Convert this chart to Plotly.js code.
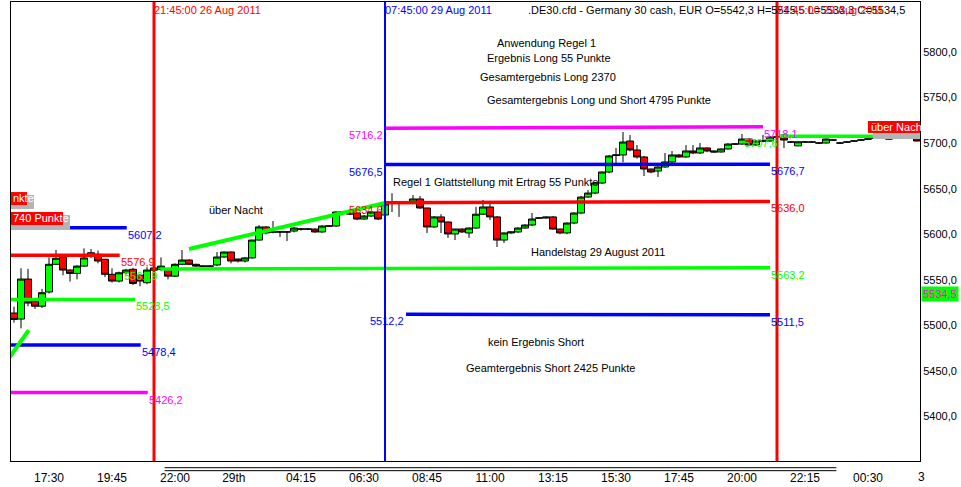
<!DOCTYPE html>
<html>
<head>
<meta charset="utf-8">
<script src="https://cdn.plot.ly/plotly-3.0.1.min.js"></script>
<style>
  html, body { margin: 0; padding: 0; background: #fff; }
  #chart { width: 961px; height: 487px; }
</style>
</head>
<body>
<div id="chart"></div>
<script>
// .DE30.cfd, 15 minute candles, Fri 26 Aug 2011 evening to Mon 29 Aug 2011
const opens = [
  5513.5, 5506.9, 5550.8, 5526.0, 5521.0, 5536.6, 5567.0, 5574.7, 5560.7, 5557.0,
  5565.0, 5579.7, 5578.0, 5572.5, 5556.0, 5548.6, 5557.7, 5561.5, 5555.0, 5546.8,
  5560.5, 5561.5, 5561.5, 5554.0, 5567.0, 5571.7, 5567.0, 5565.0, 5565.0, 5566.2,
  5575.0, 5580.5, 5572.8, 5570.6, 5574.0, 5593.6, 5608.0, 5602.5, 5602.5, 5602.5,
  5603.5, 5605.7, 5605.7, 5605.7, 5602.5, 5609.0, 5609.0, 5624.4, 5624.4, 5623.3,
  5616.7, 5620.0, 5624.4, 5621.1, 5635.4, 5634.3, 5635.4, 5634.3, 5638.7, 5628.8,
  5608.0, 5619.0, 5613.4, 5600.3, 5605.7, 5601.4, 5606.8, 5622.0, 5629.9, 5619.0,
  5593.6, 5601.4, 5602.5, 5606.8, 5610.1, 5617.8, 5617.8, 5619.0, 5605.7, 5601.4,
  5612.3, 5623.3, 5640.8, 5645.2, 5656.2, 5668.3, 5686.5, 5687.0, 5702.3, 5692.5,
  5684.8, 5671.6, 5669.4, 5673.8, 5679.3, 5687.0, 5684.8, 5691.4, 5689.2, 5694.7,
  5691.4, 5690.3, 5693.6, 5699.0, 5699.0, 5704.5, 5698.0, 5702.3, 5702.3, 5706.7,
  5708.9, 5701.2, 5697.0, 5701.2, 5701.2, 5700.1, 5700.1, 5703.4, 5700.1, 5701.2,
  5702.3, 5703.4, 5704.5, 5705.6, 5705.6, 5705.6, 5705.6, 5705.6, 5705.6, 5705.6
];
const highs = [
  5520.5, 5562.6, 5562.0, 5527.0, 5540.0, 5574.6, 5582.7, 5578.0, 5561.5, 5566.0,
  5584.5, 5583.7, 5582.0, 5573.0, 5562.6, 5559.0, 5562.0, 5563.0, 5556.0, 5563.6,
  5564.0, 5574.6, 5562.0, 5568.0, 5582.7, 5572.5, 5567.5, 5565.5, 5565.5, 5580.5,
  5581.0, 5581.0, 5573.0, 5575.0, 5594.0, 5610.0, 5609.0, 5614.5, 5603.0, 5603.0,
  5608.0, 5607.0, 5606.5, 5606.5, 5610.0, 5610.0, 5625.0, 5625.5, 5625.0, 5624.0,
  5621.0, 5625.0, 5625.0, 5634.0, 5645.0, 5635.0, 5636.0, 5643.0, 5642.0, 5629.0,
  5620.0, 5622.0, 5614.0, 5606.0, 5606.5, 5607.5, 5630.0, 5637.6, 5635.0, 5620.0,
  5602.0, 5603.0, 5607.5, 5611.0, 5623.3, 5618.5, 5619.5, 5620.0, 5606.0, 5613.0,
  5624.0, 5642.0, 5648.5, 5657.0, 5669.0, 5687.0, 5694.7, 5712.2, 5708.9, 5697.9,
  5686.0, 5672.0, 5674.5, 5689.2, 5691.3, 5688.0, 5697.9, 5697.9, 5700.1, 5695.5,
  5692.0, 5694.0, 5700.0, 5700.0, 5710.0, 5705.0, 5703.0, 5709.0, 5707.5, 5708.0,
  5710.0, 5702.0, 5702.0, 5702.0, 5702.0, 5701.0, 5705.0, 5704.0, 5701.0, 5702.0,
  5703.0, 5704.0, 5705.0, 5706.0, 5706.0, 5706.0, 5706.0, 5706.0, 5706.0, 5706.0
];
const lows = [
  5503.0, 5496.7, 5521.0, 5518.0, 5519.0, 5535.0, 5566.0, 5555.0, 5548.0, 5550.5,
  5564.0, 5574.0, 5568.0, 5553.0, 5547.0, 5547.0, 5556.0, 5544.3, 5543.0, 5545.0,
  5559.0, 5560.0, 5550.5, 5553.0, 5566.0, 5566.0, 5564.0, 5564.5, 5564.5, 5565.0,
  5574.0, 5568.0, 5569.0, 5569.0, 5573.0, 5593.0, 5600.0, 5601.0, 5597.0, 5592.6,
  5602.0, 5604.0, 5604.5, 5601.5, 5601.5, 5608.0, 5608.0, 5623.5, 5621.0, 5615.5,
  5616.0, 5619.0, 5615.5, 5620.0, 5624.4, 5619.0, 5634.0, 5633.0, 5628.0, 5601.4,
  5607.0, 5601.4, 5596.0, 5593.6, 5601.5, 5596.0, 5606.0, 5621.0, 5615.6, 5586.0,
  5590.3, 5600.5, 5601.5, 5606.0, 5609.0, 5617.0, 5617.0, 5605.0, 5600.0, 5600.0,
  5611.0, 5622.0, 5640.0, 5644.0, 5655.0, 5667.0, 5678.2, 5679.0, 5691.0, 5683.0,
  5663.9, 5667.0, 5662.8, 5673.0, 5678.0, 5684.0, 5684.0, 5688.0, 5688.0, 5690.0,
  5689.5, 5689.5, 5693.0, 5698.0, 5698.0, 5697.0, 5697.0, 5701.0, 5701.5, 5705.5,
  5694.7, 5700.5, 5696.5, 5700.5, 5700.5, 5699.5, 5699.5, 5702.5, 5699.0, 5700.5,
  5701.5, 5702.5, 5704.0, 5705.0, 5705.0, 5704.0, 5705.0, 5705.0, 5705.0, 5702.0
];
const closes = [
  5506.5, 5550.8, 5524.5, 5521.0, 5535.8, 5567.0, 5573.6, 5560.7, 5557.0, 5565.0,
  5574.0, 5576.0, 5570.6, 5556.0, 5548.6, 5557.7, 5560.7, 5546.0, 5548.6, 5560.7,
  5563.0, 5565.0, 5554.0, 5567.0, 5571.7, 5567.0, 5565.0, 5565.0, 5565.0, 5575.0,
  5580.5, 5570.6, 5570.6, 5574.0, 5593.6, 5608.0, 5601.4, 5602.5, 5602.5, 5602.5,
  5606.8, 5605.7, 5605.7, 5602.5, 5609.0, 5609.0, 5624.4, 5624.4, 5622.0, 5616.7,
  5620.0, 5624.4, 5616.7, 5633.2, 5635.4, 5634.3, 5635.4, 5638.7, 5628.8, 5608.0,
  5619.0, 5613.4, 5600.3, 5605.7, 5602.5, 5606.8, 5622.0, 5629.9, 5619.0, 5593.6,
  5601.4, 5602.5, 5606.8, 5610.1, 5616.7, 5617.8, 5618.8, 5605.7, 5601.4, 5612.3,
  5623.3, 5640.8, 5645.2, 5656.2, 5668.3, 5685.9, 5687.0, 5701.2, 5692.5, 5684.8,
  5671.6, 5668.3, 5673.8, 5679.3, 5687.0, 5684.8, 5691.4, 5689.2, 5694.7, 5691.4,
  5690.3, 5693.6, 5699.0, 5699.0, 5704.5, 5698.0, 5702.3, 5702.3, 5706.7, 5706.7,
  5703.4, 5701.2, 5701.5, 5701.2, 5701.2, 5700.1, 5704.5, 5703.4, 5700.1, 5701.2,
  5702.3, 5703.4, 5704.5, 5705.6, 5705.6, 5704.5, 5705.6, 5705.6, 5705.6, 5702.3
];

// time axis (bar numbers) and labels
const tickBars = [5, 14, 23, 31.4, 41, 50, 59, 68, 77, 86, 95, 104, 113, 122];
const tickLabels = ['17:30', '19:45', '22:00', '29th', '04:15', '06:30', '08:45', '11:00', '13:15', '15:30', '17:45', '20:00', '22:15', '00:30'];
const priceTicks = [5400, 5450, 5500, 5550, 5600, 5650, 5700, 5750, 5800];

// drawn levels: start bar, end bar, start price, end price
const levelFromBar = [-0.6, -0.6, -0.6, -0.6, -0.6, -0.6, 20.9, 25, 53, 53, 53, 56, 109.4];
const levelToBar   = [16.1, 15.1, 17.3, 18.1, 19.1, 2.1, 108, 53, 108, 108, 107, 108, 122.7];
const levelFrom    = [5607.2, 5576.9, 5528.5, 5478.4, 5426.2, 5465.2, 5561.9, 5583.8, 5634.6, 5676.5, 5716.2, 5512.2, 5707.6];
const levelTo      = [5607.2, 5576.9, 5528.5, 5478.4, 5426.2, 5494.8, 5563.2, 5634.2, 5636.0, 5676.7, 5718.1, 5511.5, 5707.6];

// vertical time markers
const markerBars = [20, 53, 109];
const markerStamps = ['21:45:00 26 Aug 2011', '07:45:00 29 Aug 2011', '21:45:00 29 Aug 2011'];

const instrument = '.DE30.cfd - Germany 30 cash, EUR';
const lastOHLC = [5542.3, 5545.5, 5533.3, 5534.5];

const noteTexts = [
  'Anwendung Regel 1', 'Ergebnis Long 55 Punkte', 'Gesamtergebnis Long 2370',
  'Gesamtergebnis Long und Short 4795 Punkte', 'über Nacht',
  'Regel 1 Glattstellung mit Ertrag 55 Punkte', 'Handelstag 29 August 2011',
  'kein Ergebnis Short', 'Geamtergebnis Short 2425 Punkte'
];
const boxTexts = ['nkte', '740 Punkte', 'über Nacht'];

// ---- styling / placement ----
const C = { red: '#ff0000', blue: '#0000ff', green: '#00ff00', magenta: '#ff00ff', gray: '#b4b4b4' };
const levelColor = [C.blue, C.red, C.green, C.blue, C.magenta, C.green, C.green, C.green, C.red, C.blue, C.magenta, C.blue, C.green];
const levelLabels = ['end', 'end', 'end', 'end', 'end', '', 'both', '', 'both', 'both', 'both', 'both', 'start'];
const markerColor = [C.red, C.blue, C.red];
const notePos = [[76, 5809.9], [76.4, 5793.4], [76.3, 5772.6], [83.6, 5747.3], [31.7, 5626.6],
                 [68.8, 5657.3], [83.4, 5580.5], [74.6, 5481.7], [76.6, 5453.1]];
const XR = [-0.43, 129.43];

const fmt = v => v.toFixed(1).replace('.', ',');
const bars = opens.map((_, i) => i);

const traces = [{
  type: 'candlestick', x: bars, open: opens, high: highs, low: lows, close: closes,
  increasing: { fillcolor: '#00ff00', line: { color: '#000', width: 1 } },
  decreasing: { fillcolor: '#ff0000', line: { color: '#000', width: 1 } },
  whiskerwidth: 0, hoverinfo: 'skip'
}];
levelFromBar.forEach((x0, k) => {
  traces.push({
    type: 'scatter', mode: 'lines', x: [x0, levelToBar[k]], y: [levelFrom[k], levelTo[k]],
    line: { color: levelColor[k], width: (k === 5 || k === 7) ? 4 : 3.5 }, hoverinfo: 'skip'
  });
});

const ann = [];
const txt = (o) => Object.assign({ showarrow: false, xref: 'x', yref: 'y', font: { size: 11, color: '#000' } }, o);

ann.push(txt({ xref: 'paper', x: 0.9857, xanchor: 'right', y: 5846,
  text: instrument + ' O=' + fmt(lastOHLC[0]) + ' H=' + fmt(lastOHLC[1]) + ' L=' + fmt(lastOHLC[2]) + ' C=' + fmt(lastOHLC[3]) }));
markerBars.forEach((b, k) => ann.push(txt({ x: b, xanchor: 'left', xshift: -2, y: 5846, text: markerStamps[k], font: { size: 11, color: markerColor[k] } })));
noteTexts.forEach((t, k) => ann.push(txt({ x: notePos[k][0], y: notePos[k][1], text: t })));
levelLabels.forEach((where, k) => {
  const f = { size: 11, color: levelColor[k] };
  if (where === 'start' || where === 'both')
    ann.push(txt({ x: levelFromBar[k], y: levelFrom[k], xanchor: 'right', yshift: -7, text: fmt(levelFrom[k]), font: f }));
  if (where === 'end' || where === 'both')
    ann.push(txt({ x: levelToBar[k], y: levelTo[k], xanchor: 'left', xshift: -1, yshift: -7, text: fmt(levelTo[k]), font: f }));
});
ann.push(txt({ x: -0.43, xanchor: 'left', y: 5639.8, text: boxTexts[0], font: { size: 11, color: '#fff' } }));
ann.push(txt({ x: -0.43, xanchor: 'left', y: 5617.3, text: boxTexts[1], font: { size: 11, color: '#fff' } }));
ann.push(txt({ x: 122.1, xanchor: 'left', y: 5717.7, text: boxTexts[2], font: { size: 11, color: '#fff' } }));
ann.push(txt({ xref: 'paper', x: 1, xanchor: 'left', xshift: 1, y: lastOHLC[3], text: fmt(lastOHLC[3]),
  bgcolor: '#00ff00', borderpad: 1, font: { size: 11, color: C.magenta } }));
ann.push(txt({ xref: 'paper', yref: 'paper', x: 1.0, xanchor: 'center', xshift: 1, y: -0.035, yanchor: 'middle', text: '3',
  font: { family: 'Liberation Sans Narrow, Liberation Sans, Arial', size: 12, color: '#000' } }));

const rect = (x0, x1, y0, y1, c) => ({ type: 'rect', xref: 'x', yref: 'y', x0, x1, y0, y1, fillcolor: c, line: { width: 0 } });
const shapes = [
  rect(XR[0], 2.86, 5627.7, 5643.1, C.gray), rect(XR[0], 1.86, 5632.1, 5646.3, C.red),
  rect(XR[0], 8, 5604.6, 5621.1, C.gray), rect(XR[0], 7, 5610.1, 5624.4, C.red),
  rect(122.7, XR[1], 5704.5, 5711.1, C.gray), rect(122, XR[1], 5711.1, 5724.3, C.red),
  { type: 'line', xref: 'paper', yref: 'paper', x0: 0.169, x1: 0.908, y0: -0.0146, y1: -0.0146, line: { color: '#000', width: 1 } },
  { type: 'line', xref: 'paper', yref: 'paper', x0: 0.169, x1: 0.908, y0: -0.0211, y1: -0.0211, line: { color: '#000', width: 1 } }
];
markerBars.forEach((b, k) => shapes.push({ type: 'line', xref: 'x', yref: 'paper', x0: b, x1: b, y0: 0, y1: 1,
  line: { color: markerColor[k], width: k === 1 ? 2 : 3 } }));

const layout = {
  width: 961, height: 487,
  margin: { l: 11, r: 41, t: 2, b: 26 },
  paper_bgcolor: '#fff', plot_bgcolor: '#fff',
  showlegend: false, hovermode: false, separators: ',.',
  font: { family: 'Liberation Sans, Arial, sans-serif', size: 11, color: '#000' },
  boxgap: 0, boxgroupgap: 0,
  xaxis: {
    range: XR, rangeslider: { visible: false }, showgrid: false, zeroline: false,
    showline: true, linecolor: '#000', linewidth: 1, mirror: true, ticks: '',
    tickmode: 'array', tickvals: tickBars, ticktext: tickLabels, ticklabelstandoff: 6,
    tickfont: { family: 'Liberation Sans Narrow, Liberation Sans, Arial', size: 12, color: '#000' }
  },
  yaxis: {
    side: 'right', range: [5351.1, 5854.9], showgrid: false, zeroline: false,
    showline: true, linecolor: '#000', linewidth: 1, mirror: true, ticks: '',
    tickmode: 'array', tickvals: priceTicks, tickformat: '.1f', tickfont: { size: 11, color: '#000' }
  },
  shapes: shapes,
  annotations: ann
};

Plotly.newPlot('chart', traces, layout, { staticPlot: true });
</script>
</body>
</html>
